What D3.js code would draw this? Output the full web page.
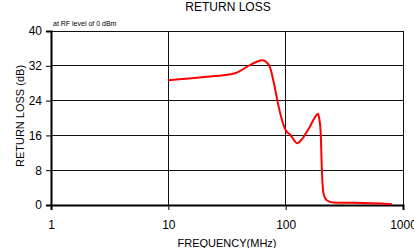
<!DOCTYPE html>
<html>
<head>
<meta charset="utf-8">
<script src="https://cdn.jsdelivr.net/npm/d3@7"></script>
<style>
  body { margin: 0; background: #fff; }
  text { font-family: "Liberation Sans", Arial, sans-serif; fill: #000; }
</style>
</head>
<body>
<script>
// data
const freqMHz = [10, 20, 37, 50, 63, 72, 80, 85, 92, 100, 110, 125, 140, 160, 180, 189, 193, 199, 203, 210, 224, 254, 400, 805];
const returnLossDb = [28.7, 29.4, 30.3, 32.2, 33.3, 32.2, 27.6, 24, 20, 17.2, 16.1, 14.2, 15.4, 17.9, 20.4, 21, 20, 16.5, 8.8, 2.7, 1.1, 0.6, 0.5, 0.2];
const xTicks = [1, 10, 100, 1000];
const yTicks = [0, 8, 16, 24, 32, 40];

const width = 414, height = 248;
const margin = {top: 31, right: 11, bottom: 43, left: 51};

const svg = d3.select("body").append("svg").attr("width", width).attr("height", height);

const x = d3.scaleLog().domain([1, 1000]).range([margin.left, width - margin.right]);
const y = d3.scaleLinear().domain([0, 40]).range([height - margin.bottom, margin.top]);

// gridlines
svg.append("g").selectAll("line").data(yTicks.slice(1)).enter().append("line")
  .attr("x1", margin.left).attr("x2", width - margin.right)
  .attr("y1", d => y(d)).attr("y2", d => y(d))
  .attr("stroke", "#111").attr("stroke-width", 1).attr("shape-rendering", "crispEdges");
svg.append("g").selectAll("line").data(xTicks.slice(1)).enter().append("line")
  .attr("x1", d => x(d)).attr("x2", d => x(d))
  .attr("y1", margin.top).attr("y2", height - margin.bottom)
  .attr("stroke", "#111").attr("stroke-width", 1).attr("shape-rendering", "crispEdges");

//Axes
const yAxis = d3.axisLeft(y).tickValues(yTicks).tickSize(5).tickPadding(4);
const xAxis = d3.axisBottom(x).tickValues(xTicks).tickFormat(d3.format("d")).tickSize(5).tickPadding(10);

const gy = svg.append("g").attr("transform", "translate(" + margin.left + ",0)").call(yAxis);
const gx = svg.append("g").attr("transform", "translate(0," + (height - margin.bottom) + ")").call(xAxis);
[gx, gy].forEach(g => {
  g.select(".domain").attr("stroke", "#000").attr("stroke-width", 2);
  g.selectAll(".tick line").attr("stroke", "#000");
  g.selectAll("text").style("font-size", "12px").attr("fill", "#000")
    .style("font-family", "'Liberation Sans', Arial, sans-serif");
});

// the curve
const line = d3.line().x((d, i) => x(freqMHz[i])).y(d => y(d)).curve(d3.curveMonotoneX);
svg.append("path").datum(returnLossDb).attr("d", line)
  .attr("fill", "none").attr("stroke", "#ff0000").attr("stroke-width", 2);

// titles
svg.append("text").attr("x", 228).attr("y", 11).attr("text-anchor", "middle")
  .style("font-size", "12px").text("RETURN LOSS");
svg.append("text").attr("x", 53).attr("y", 25.5)
  .style("font-size", "7px").text("at RF level of 0 dBm");
svg.append("text").attr("x", 227).attr("y", 246.5).attr("text-anchor", "middle")
  .style("font-size", "11px").text("FREQUENCY(MHz)");
svg.append("text").attr("transform", "translate(23.5,116) rotate(-90)")
  .attr("text-anchor", "middle").style("font-size", "11px").text("RETURN LOSS (dB)");
</script>
</body>
</html>
